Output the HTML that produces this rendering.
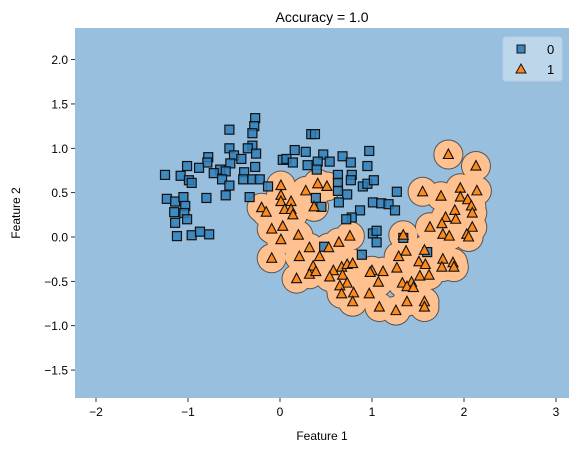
<!DOCTYPE html>
<html><head><meta charset="utf-8"><style>
body{margin:0;background:#fff;}
svg text{font-family:"Liberation Sans","DejaVu Sans",sans-serif;}
</style></head><body>
<svg id="chart" width="579" height="453" viewBox="0 0 579 453">
<rect x="75" y="28" width="494" height="370" fill="#99bfdf"/>
<g id="regionOutline"></g>
<g id="regionFill"></g>
<g id="marks0"></g>
<g id="marks1"></g>
<g id="xticks"></g>
<g id="yticks"></g>
<text x="322" y="22" font-size="14" text-anchor="middle">Accuracy = 1.0</text>
<text x="322" y="440" font-size="12" text-anchor="middle">Feature 1</text>
<text x="20" y="213" font-size="12" text-anchor="middle" transform="rotate(-90 20 213)">Feature 2</text>
<g>
<rect x="503" y="37" width="59" height="44" rx="3" fill="#c4d9ec" fill-opacity="0.85" stroke="#b8d0e6"/>
<rect x="517" y="45" width="8" height="8" fill="#3d86bd" stroke="#111" stroke-width="1"/>
<text x="547" y="54" font-size="13">0</text>
<path d="M521,64 L526,73 L516,73 Z" fill="#ff8a1c" stroke="#111" stroke-width="1"/>
<text x="547" y="74" font-size="13">1</text>
</g>
</svg>
<script>
const xTicks=[-2,-1,0,1,2,3];
const yTicks=[-1.5,-1.0,-0.5,0.0,0.5,1.0,1.5,2.0];
const class0X=[-0.27,-0.28,-0.55,-0.30,0.34,0.38,-0.55,-0.30,-0.35,-0.26,-0.78,-0.50,-0.42,0.16,0.28,0.47,-0.79,-0.54,-1.01,-0.88,-0.65,-0.59,-0.72,-0.27,-0.39,-1.25,-1.08,-0.99,-0.96,-0.63,-0.55,-0.40,-0.30,-0.22,-0.13,-0.59,-0.80,-0.33,-1.23,-1.14,-1.05,-1.03,-1.15,-1.04,-1.01,-1.14,-1.12,-0.96,-0.87,-0.77,0.03,0.07,0.14,0.30,0.41,0.40,0.39,0.45,0.48,0.54,0.68,0.77,0.97,0.95,0.63,0.78,0.77,0.63,0.90,0.95,1.02,0.63,0.73,1.27,0.64,1.01,1.10,1.18,1.25,0.87,0.78,0.72,1.01,1.05,1.05,0.89,1.60,1.34];
const class0Y=[1.34,1.25,1.21,1.17,1.16,1.16,1.00,1.03,1.00,0.94,0.90,0.92,0.88,0.98,0.96,0.93,0.84,0.83,0.80,0.78,0.76,0.74,0.72,0.79,0.73,0.70,0.69,0.64,0.61,0.65,0.58,0.65,0.65,0.65,0.57,0.47,0.44,0.45,0.43,0.40,0.45,0.35,0.28,0.27,0.20,0.16,0.01,0.02,0.06,0.03,0.87,0.88,0.84,0.81,0.85,0.76,0.44,0.34,-0.11,0.85,0.91,0.84,0.97,0.80,0.70,0.70,0.64,0.61,0.57,0.60,0.64,0.52,0.48,0.51,0.39,0.39,0.38,0.37,0.30,0.30,0.22,0.20,0.04,0.07,-0.06,-0.20,-0.17,-0.01];
const class1X=[0.01,0.41,0.51,0.28,0.01,0.01,0.12,-0.20,-0.15,0.05,0.12,0.14,0.37,-0.09,0.03,0.20,0.01,0.32,0.21,-0.09,0.43,0.36,0.32,0.39,0.64,0.76,0.53,0.67,0.73,0.79,0.58,0.68,0.18,0.54,0.73,1.00,0.98,1.12,1.07,0.65,0.80,0.67,0.79,0.97,1.08,1.26,1.38,1.57,1.57,1.33,1.43,1.38,1.45,1.27,1.37,1.29,1.51,1.58,1.52,1.62,1.34,1.83,2.13,1.55,1.75,1.96,1.96,2.14,2.04,2.08,1.90,1.80,1.91,2.09,1.63,1.76,2.09,1.77,1.84,2.03,2.05,1.57,1.77,1.88,1.76,1.89];
const class1Y=[0.58,0.60,0.57,0.52,0.47,0.40,0.40,0.33,0.28,0.31,0.31,0.25,0.34,0.09,0.12,0.02,-0.03,-0.12,-0.22,-0.24,-0.22,-0.33,-0.42,-0.39,-0.06,0.01,-0.12,-0.34,-0.31,-0.30,-0.38,-0.43,-0.47,-0.45,-0.52,-0.38,-0.40,-0.39,-0.51,-0.55,-0.63,-0.64,-0.73,-0.64,-0.79,-0.83,-0.73,-0.73,-0.79,-0.52,-0.51,-0.56,-0.57,-0.35,-0.16,-0.22,-0.28,-0.31,-0.44,-0.43,0.02,0.93,0.80,0.51,0.46,0.55,0.45,0.52,0.42,0.35,0.30,0.22,0.20,0.27,0.11,0.15,0.11,0.03,0.01,0.03,0.00,-0.15,-0.25,-0.29,-0.34,-0.34];

const NS='http://www.w3.org/2000/svg';
function sx(v){return 280+v*92;}
function sy(v){return 237-v*88.7;}
function mk(tag,attrs,parent){const e=document.createElementNS(NS,tag);for(const k in attrs)e.setAttribute(k,attrs[k]);parent.appendChild(e);return e;}
const gO=document.getElementById('regionOutline'),gF=document.getElementById('regionFill');
for(let i=0;i<class1X.length;i++){
  const c=mk('circle',{cx:sx(class1X[i]),cy:sy(class1Y[i]),r:15,fill:'#555'},gO);
  
  
}
for(let i=0;i<class1X.length;i++){
  const c=mk('circle',{cx:sx(class1X[i]),cy:sy(class1Y[i]),r:14,fill:'#ffc18f'},gF);
  
  
}
const g0=document.getElementById('marks0');
for(let i=0;i<class0X.length;i++){
  const x=sx(class0X[i]),y=sy(class0Y[i]);
  const r=mk('rect',{x:x-4.5,y:y-4.5,width:9,height:9,fill:'#2e7fba','fill-opacity':0.85,stroke:'#111','stroke-width':1.2},g0);
  
  
}
const g1=document.getElementById('marks1');
for(let i=0;i<class1X.length;i++){
  const x=sx(class1X[i]),y=sy(class1Y[i]);
  const p=mk('path',{d:`M${x},${y-5.5} L${x+5},${y+4} L${x-5},${y+4} Z`,fill:'#ff8a1c',stroke:'#111','stroke-width':1.1},g1);
  
  
}
const gx=document.getElementById('xticks');
xTicks.forEach(t=>{
  const x=sx(t);
  const l=mk('line',{x1:x,x2:x,y1:398,y2:402,stroke:'#000','stroke-width':0.8},gx);
  
  
  const tx=mk('text',{x:x,y:416,'font-size':12,'text-anchor':'middle'},gx);
  tx.textContent=(t<0?'\u2212'+(-t):t);
  
  
});
const gy=document.getElementById('yticks');
yTicks.forEach(t=>{
  const y=sy(t);
  const l=mk('line',{x1:71,x2:75,y1:y,y2:y,stroke:'#000','stroke-width':0.8},gy);
  
  
  const tx=mk('text',{x:68,y:y+4.5,'font-size':12,'text-anchor':'end'},gy);
  tx.textContent=(t<0?'\u2212'+(-t).toFixed(1):t.toFixed(1));
  
  
});
</script>
</body></html>
